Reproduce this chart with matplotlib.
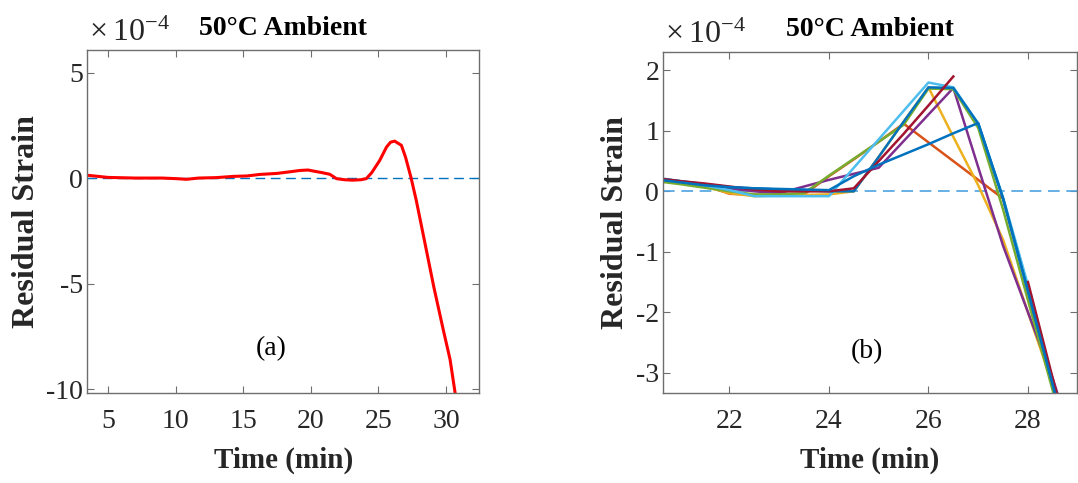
import numpy as np
import matplotlib
matplotlib.use("Agg")
import matplotlib.pyplot as plt

plt.rcParams['font.family'] = ['Liberation Serif', 'DejaVu Serif']
plt.rcParams['axes.unicode_minus'] = False
plt.rcParams['mathtext.fontset'] = 'custom'
plt.rcParams['mathtext.rm'] = 'Liberation Serif'

# ---- data (strain values in units of 1e-4) ----
# (a) single test, whole run
time_a = [3.5, 5.0, 7.0, 9.0, 10.1, 10.8, 11.7, 13.0, 14.3, 15.3, 16.2, 17.5, 18.5,
          19.2, 19.8, 20.2, 20.8, 21.4, 21.9, 22.5, 23.1, 23.7, 24.1, 24.5, 25.1,
          25.6, 25.9, 26.2, 26.7, 27.0, 27.4, 27.8, 28.2, 28.8, 29.1, 29.8, 30.3, 30.7]
strain_a = [0.13, 0.03, 0.0, 0.0, -0.03, -0.06, 0.0, 0.02, 0.08, 0.1, 0.17, 0.22, 0.3,
            0.36, 0.38, 0.33, 0.26, 0.18, -0.03, -0.08, -0.1, -0.08, -0.03, 0.25, 0.84,
            1.47, 1.7, 1.75, 1.55, 1.0, 0.05, -1.06, -2.32, -4.22, -5.17, -7.2, -8.6, -10.3]

# (b) several tests near the end of the run
time_b = [20.5, 21, 21.5, 22, 22.5, 23, 23.5, 24, 24.5, 25, 25.5, 26, 26.5, 27, 27.5, 28, 28.5, 29]
orange = [0.2, 0.15, 0.1, -0.04, -0.06, -0.06, -0.05, 0.25, 0.53, 0.82, 1.12, 0.81, 0.5, 0.19, -0.12, -1.6, -3.2, -4.8]
yellow = [0.2, 0.15, 0.08, -0.03, -0.08, -0.07, -0.06, -0.05, 0.0, 0.57, 1.15, 1.72, 0.9, 0.1, -0.8, -2.0, -3.2, -4.8]
purple = [0.2, 0.15, 0.1, 0.05, 0.0, -0.03, 0.08, 0.19, 0.29, 0.39, 0.83, 1.27, 1.71, 0.4, -0.9, -2.0, -3.1, -4.4]
green = [0.17, 0.12, 0.06, 0.0, -0.05, -0.05, -0.03, 0.26, 0.54, 0.82, 1.1, 1.7, 1.69, 1.05, -0.3, -1.8, -3.3, -4.8]
lightblue = [0.23, 0.17, 0.1, 0.02, -0.08, -0.08, -0.08, -0.08, 0.39, 0.86, 1.33, 1.8, 1.72, 1.12, -0.1, -1.55, -3.15, -4.7]
blue1 = [0.22, 0.17, 0.12, 0.07, 0.05, 0.03, 0.02, 0.0, 0.0, 0.57, 1.15, 1.72, 1.71, 1.12, -0.12, -1.65, -3.2, -4.8]
darkred = [0.22, 0.17, 0.13, 0.08, 0.03, 0.0, 0.0, 0.0, 0.05, 0.5, 0.95, 1.42, 1.9, np.nan, np.nan, -1.5, -3.1, -4.7]
blue2 = [0.2, 0.15, 0.1, 0.07, 0.05, 0.04, 0.03, 0.02, 0.25, 0.44, 0.61, 0.78, 0.96, 1.13, -0.12, -1.65, -3.2, -4.8]

series_b = [orange, yellow, purple, green, lightblue, blue1, darkred, blue2]
colors_b = ['#D95319', '#EDB120', '#7E2F8E', '#77AC30', '#4DBEEE', '#0072BD', '#A2142F', '#0072BD']

fig = plt.figure(figsize=(10.78, 4.83), dpi=100)
ax1 = fig.add_axes([0.081, 0.187, 0.3636, 0.7096])
ax2 = fig.add_axes([0.6153, 0.187, 0.3835, 0.706])


def style_axes(ax):
    for sp in ax.spines.values():
        sp.set_color('#6e6e6e')
        sp.set_linewidth(1.0)
    ax.tick_params(direction='in', top=True, right=True, length=5, color='#6e6e6e',
                   labelsize=20, labelcolor='#262626')
    ax.tick_params(axis='x', pad=12)
    ax.tick_params(axis='y', pad=3)
    ax.set_xlabel('Time (min)', fontsize=21, fontweight='bold', color='#262626', labelpad=9)
    ax.set_ylabel('Residual Strain', fontsize=23, fontweight='bold', color='#262626', labelpad=4)
    # exponent label like MATLAB
    ax.text(0.005, 1.025, r'$\times\,\mathrm{10^{-4}}$', transform=ax.transAxes, ha='left',
            va='baseline', fontsize=23, color='#262626')
    ax.text(0.5, 1.045, '50\u00b0C Ambient', transform=ax.transAxes, ha='center',
            va='baseline', fontsize=20, fontweight='bold')


# (a)
ax1.axhline(0, color='#0072BD', lw=1, dashes=(7, 4))
ax1.plot(time_a, strain_a, color='red', lw=2.2)
ax1.set_xlim(3.47, 32.46)
ax1.set_ylim(-10.17, 6.07)
ax1.set_xticks([5, 10, 15, 20, 25, 30])
ax1.set_yticks([-10, -5, 0, 5])
style_axes(ax1)
ax1.text(0.469, 0.13, '(a)', transform=ax1.transAxes, ha='center', va='center', fontsize=20)

# (b)
ax2.axhline(0, color='#4DA3E0', lw=1.2, dashes=(7, 4))
for vals, c in zip(series_b, colors_b):
    ax2.plot(time_b, vals, color=c, lw=1.8)
ax2.set_xlim(20.67, 28.98)
ax2.set_ylim(-3.33, 2.31)
ax2.set_xticks([22, 24, 26, 28])
ax2.set_yticks([-3, -2, -1, 0, 1, 2])
style_axes(ax2)
ax2.text(0.492, 0.12, '(b)', transform=ax2.transAxes, ha='center', va='center', fontsize=20)

fig.savefig('out.png', dpi=100)
